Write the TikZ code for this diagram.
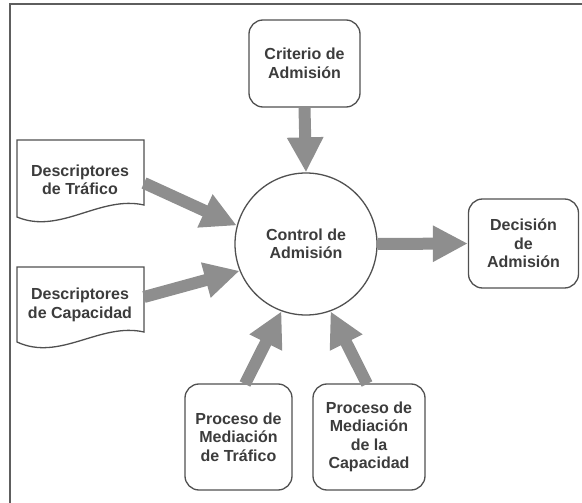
\documentclass[tikz,border=0pt]{standalone}
\usepackage{fontspec}
\setmainfont{Liberation Sans}
\usetikzlibrary{arrows.meta}
\definecolor{txt}{HTML}{3C3C3C}
\definecolor{edge}{HTML}{505050}
\definecolor{arr}{HTML}{8E8E8E}
\definecolor{frm}{HTML}{5E5E5E}
\tikzset{
  lbl/.style={font=\fontsize{16}{18.5}\selectfont\bfseries, text=txt, align=center},
  rbox/.style={lbl, draw=edge, line width=1.3pt, rounded corners=14pt, inner sep=0pt},
  doc/.style={draw=edge, line width=1.3pt, fill=white},
  bigarrow/.style={draw=arr, line width=12pt, -{Triangle[width=34pt,length=35pt]}},
}
\begin{document}
\begin{tikzpicture}[x=1pt,y=-1pt]
\useasboundingbox (0,0) rectangle (582,503);
% frame (cropped)
\draw[frm, line width=2pt] (10,503) -- (10,4) -- (582,4);

% nodes
\node[rbox, minimum width=111pt, minimum height=87pt] (crit) at (304.5,63.5) {Criterio de\\Admisión};
\node[lbl, draw=edge, line width=1.3pt, circle, minimum size=142pt, inner sep=0pt] (ctrl) at (306,244) {Control de\\Admisión};
\node[rbox, minimum width=110pt, minimum height=89pt] (dec) at (523.5,243.5) {Decisión\\de\\Admisión};
\node[rbox, minimum width=107pt, minimum height=106pt] (pmt) at (238.5,437) {Proceso de\\Mediación\\de Tráfico};
\node[rbox, minimum width=112pt, minimum height=106pt] (pmc) at (369,437) {Proceso de\\Mediación\\de la\\Capacidad};

% document shapes
\draw[doc] (17,140) -- (144,140) -- (144,205) .. controls (100,195) and (60,235) .. (17,217) -- cycle;
\node[lbl] (dt) at (80,180) {Descriptores\\de Tráfico};
\draw[doc] (17,267) -- (144,267) -- (144,332) .. controls (100,322) and (60,362) .. (17,342) -- cycle;
\node[lbl] (dc) at (80,305) {Descriptores\\de Capacidad};

% arrow start points
\coordinate (sdt) at (144,183);
\coordinate (sdc) at (144,297);
\coordinate (spmt) at (245,384);
\coordinate (spmc) at (367,384);

% arrows
\draw[bigarrow] (crit.south) -- (ctrl.north);
\draw[bigarrow] (ctrl.east) -- (dec.west);
\draw[bigarrow] (sdt) -- (ctrl.165);
\draw[bigarrow] (sdc) -- (ctrl.202);
\draw[bigarrow] (spmt) -- (ctrl.250);
\draw[bigarrow] (spmc) -- (ctrl.290);
\end{tikzpicture}
\end{document}
